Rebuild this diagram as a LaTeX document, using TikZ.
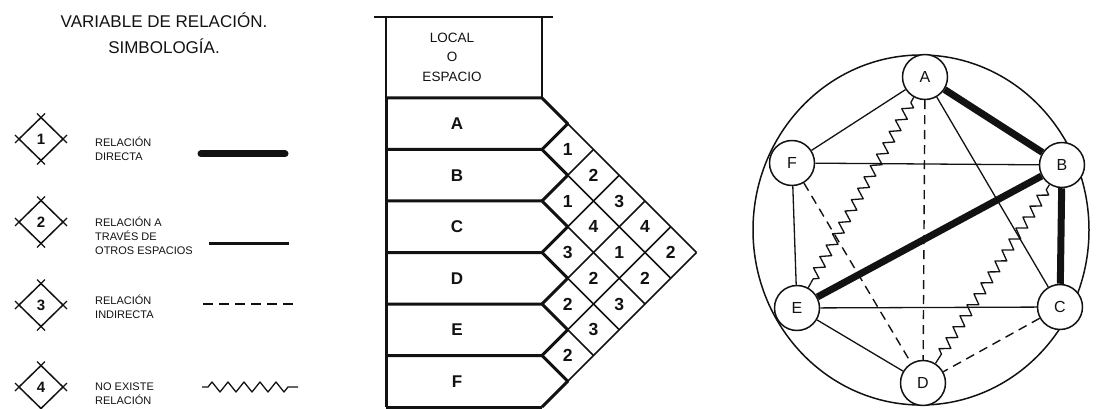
\documentclass[tikz,border=0pt]{standalone}
\usepackage{fontspec}
\setmainfont{Liberation Sans}
\usepackage{tikz}
\usetikzlibrary{arrows.meta,positioning,calc,shapes.geometric,decorations.pathmorphing}
\definecolor{esp@ink}{RGB}{18,18,18}
\tikzset{
  espacio/.style={
    x=1pt, y=-1pt,
    line join=round,
    draw=esp@ink,
    every node/.style={text=esp@ink}
  },
  symb/.style={                    % legend diamond
    draw=esp@ink, line width=1.5pt,
    diamond, aspect=1, inner sep=0pt, outer sep=0pt,
    minimum width=44pt, minimum height=43pt,
    font=\fontsize{15}{15}\selectfont\bfseries
  },
  symbtick/.style={draw=esp@ink, line width=1.3pt},
  legtext/.style={
    anchor=west, align=left, inner sep=0pt,
    font=\fontsize{11}{14}\selectfont
  },
  title/.style={font=\fontsize{17}{26}\selectfont, align=center},
  rel1/.style={draw=esp@ink, line width=7pt},
  rel2/.style={draw=esp@ink, line width=1.3pt},
  rel3/.style={draw=esp@ink, line width=1.4pt, dash pattern=on 9pt off 6pt},
  rel4/.style={draw=esp@ink, line width=1.3pt,
    decorate, decoration={zigzag, segment length=13pt, amplitude=5pt,
      pre length=6pt, post length=6pt}},
  rowline/.style={draw=esp@ink, line width=3pt},
  gridline/.style={draw=esp@ink, line width=1.6pt},
  rowlabel/.style={font=\fontsize{17}{17}\selectfont\bfseries},
  cellnum/.style={font=\fontsize{17.5}{17.5}\selectfont\bfseries, inner sep=0pt},
  gnode/.style={
    draw=esp@ink, line width=1.5pt, circle, fill=white,
    minimum size=45pt, inner sep=0pt,
    font=\fontsize{16}{16}\selectfont
  }
}
\def\dx{25.75}

\begin{document}
\begin{tikzpicture}[espacio]
\useasboundingbox (0,0) rectangle (1096,409);

% legend
\node[title] (tit) at (164,33) {VARIABLE DE RELACIÓN.\\SIMBOLOGÍA.};

\node[symb] (s1) at (41,139) {1};
\node[symb] (s2) at (41,222) {2};
\node[symb] (s3) at (41,305) {3};
\node[symb] (s4) at (41,387) {4};
\foreach \s in {s1,s2,s3,s4}{
  \draw[symbtick] (\s.north) -- ++(4,-4) (\s.north) -- ++(-4,-4)
                  (\s.east)  -- ++(4,4)  (\s.east)  -- ++(4,-4)
                  (\s.south) -- ++(4,4)  (\s.south) -- ++(-4,4)
                  (\s.west)  -- ++(-4,4) (\s.west)  -- ++(-4,-4);
}

\node[legtext] (t1) at (95,149) {RELACIÓN\\DIRECTA};
\node[legtext] (t2) at (95,236) {RELACIÓN A\\TRAVÉS DE\\OTROS ESPACIOS};
\node[legtext] (t3) at (95,307) {RELACIÓN\\INDIRECTA};
\node[legtext] (t4) at (95,394) {NO EXISTE\\RELACIÓN};

\coordinate (l1a) at (201,154); \coordinate (l1b) at (285,154);
\coordinate (l2a) at (209,243); \coordinate (l2b) at (289,243);
\coordinate (l3a) at (203,304); \coordinate (l3b) at (298,304);
\coordinate (l4a) at (202,387); \coordinate (l4b) at (298,387);
\draw[rel1, line cap=round] (l1a) -- (l1b);
\draw[rel2, line width=3pt] (l2a) -- (l2b);
\draw[rel3, dash pattern=on 10pt off 6pt] (l3a) -- (l3b);
\draw[rel4, decoration={zigzag, segment length=16pt, amplitude=5pt}] (l4a) -- (l4b);

% matrix of spaces
\draw[line width=1.8pt] (374,17) -- (553,17);
\draw[line width=1.4pt] (386,17) -- (386,98) (542,17) -- (542,98);
\node[font=\fontsize{13.5}{19.5}\selectfont, align=center] (hdr) at (452,57) {LOCAL\\O\\ESPACIO};

\foreach \p in {0,...,6}{
  \foreach \q in {\p,...,6}{
    \coordinate (v\p\q) at ({542+\dx*(\q-\p)},{98+\dx*(\p+\q)});
  }
}
\draw[gridline] (v01) -- (v06);
\foreach \c in {1,...,5}{ \draw[gridline] (v\c\c) -- (v\c6); }
\foreach \c in {1,...,6}{ \draw[gridline] (v0\c) -- (v\c\c); }

\draw[rowline] (386,98) -- (386,407);
\foreach \k [evaluate=\k as \n using int(\k+1)] in {0,...,5}{
  \draw[rowline] (386,{98+2*\dx*\k}) -- (v\k\k) -- (v\k\n) -- (v\n\n);
}
\draw[rowline] (386,407) -- (v66);

\foreach \k/\l in {0/A,1/B,2/C,3/D,4/E,5/F}{
  \node[rowlabel] (r\l) at (457,{98+\dx*(2*\k+1)}) {\l};
}
\foreach \i/\j/\val in {0/1/1,1/2/1,2/3/3,3/4/2,4/5/2,
                        0/2/2,1/3/4,2/4/2,3/5/3,
                        0/3/3,1/4/1,2/5/3,
                        0/4/4,1/5/2,
                        0/5/2}{
  \node[cellnum] (c\i\j) at ({542+\dx*(\j-\i)},{98+\dx*(\i+\j+1)}) {\val};
}

% graph of relations
\draw[line width=1.5pt] (921,230) ellipse [x radius=168, y radius=175];
\node[gnode] (A) at (925,77)  {A};
\node[gnode] (B) at (1062,165) {B};
\node[gnode] (C) at (1060,307) {C};
\node[gnode] (D) at (923,383) {D};
\node[gnode] (E) at (797,308) {E};
\node[gnode] (F) at (792,163) {F};

\draw[rel2] (A) -- (F);
\draw[rel2] (F) -- (B);
\draw[rel2] (F) -- (E);
\draw[rel2] (E) -- (C);
\draw[rel2] (E) -- (D);
\draw[rel2] (A) -- (C);
\draw[rel3] (A) -- (D);
\draw[rel3] (F) -- (D);
\draw[rel3] (C) -- (D);
\draw[rel4] (A) -- (E);
\draw[rel4] (B) -- (D);
\draw[rel1] (A) -- (B);
\draw[rel1] (B) -- (C);
\draw[rel1] (B) -- (E);

\end{tikzpicture}
\end{document}
